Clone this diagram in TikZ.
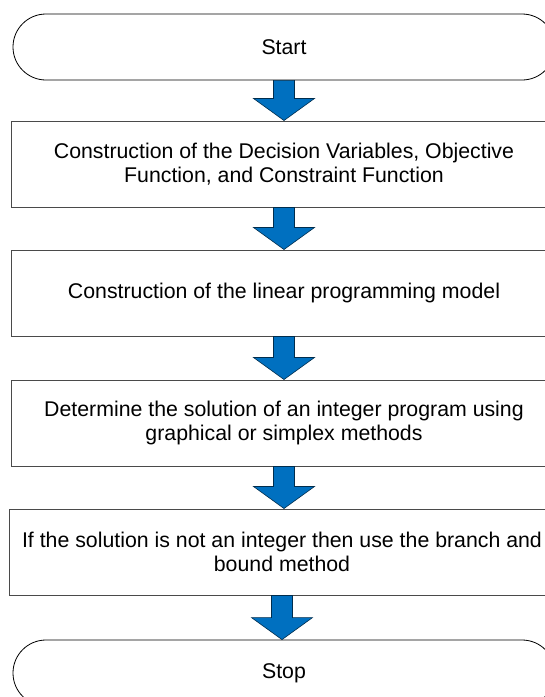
\documentclass[tikz,border=0pt]{standalone}
\usepackage{fontspec}
\setmainfont{Liberation Sans}
\usetikzlibrary{calc}
\definecolor{arrowblue}{HTML}{0070C0}
\definecolor{boxline}{HTML}{4A4A4A}
\tikzset{
  x=1pt, y=1pt,
  procbox/.style={draw=boxline, line width=1pt, fill=white, minimum width=546pt, minimum height=86pt,
    align=center, inner sep=0pt, font=\fontsize{21.3}{24.5}\selectfont},
  termbox/.style={draw=black, line width=0.8pt, fill=white, rounded corners=33pt, minimum width=542pt,
    minimum height=66pt, align=center, inner sep=0pt, font=\fontsize{21.3}{24.5}\selectfont},
  flowarrow/.style={fill=arrowblue, draw=black!60!arrowblue, line width=0.6pt, line join=miter}
}
\newcommand{\blockarrow}[2]{%
  \path[flowarrow] let \p1=(#1.south), \p2=(#2.north) in
    (\x1-10.5,\y1) -- (\x1+10.5,\y1) -- (\x1+10.5,\y2+22) -- (\x1+30.5,\y2+22)
    -- (\x1,\y2) -- (\x1-30.5,\y2+22) -- (\x1-10.5,\y2+22) -- cycle;}
\begin{document}
\begin{tikzpicture}
\clip (0,0) rectangle (545,-697);
\fill[white] (0,0) rectangle (545,-697);
\node[termbox] (start) at (284,-47) {Start};
\node[procbox] (b1) at (284,-164) {Construction of the Decision Variables, Objective\\Function, and Constraint Function};
\node[procbox] (b2) at (284,-293) {Construction of the linear programming model};
\node[procbox] (b3) at (284,-423) {Determine the solution of an integer program using\\graphical or simplex methods};
\node[procbox] (b4) at (282,-552) {If the solution is not an integer then use the branch and\\bound method};
\node[termbox] (stop) at (284,-673) {Stop};
\blockarrow{start}{b1}
\blockarrow{b1}{b2}
\blockarrow{b2}{b3}
\blockarrow{b3}{b4}
\blockarrow{b4}{stop}
\end{tikzpicture}
\end{document}
